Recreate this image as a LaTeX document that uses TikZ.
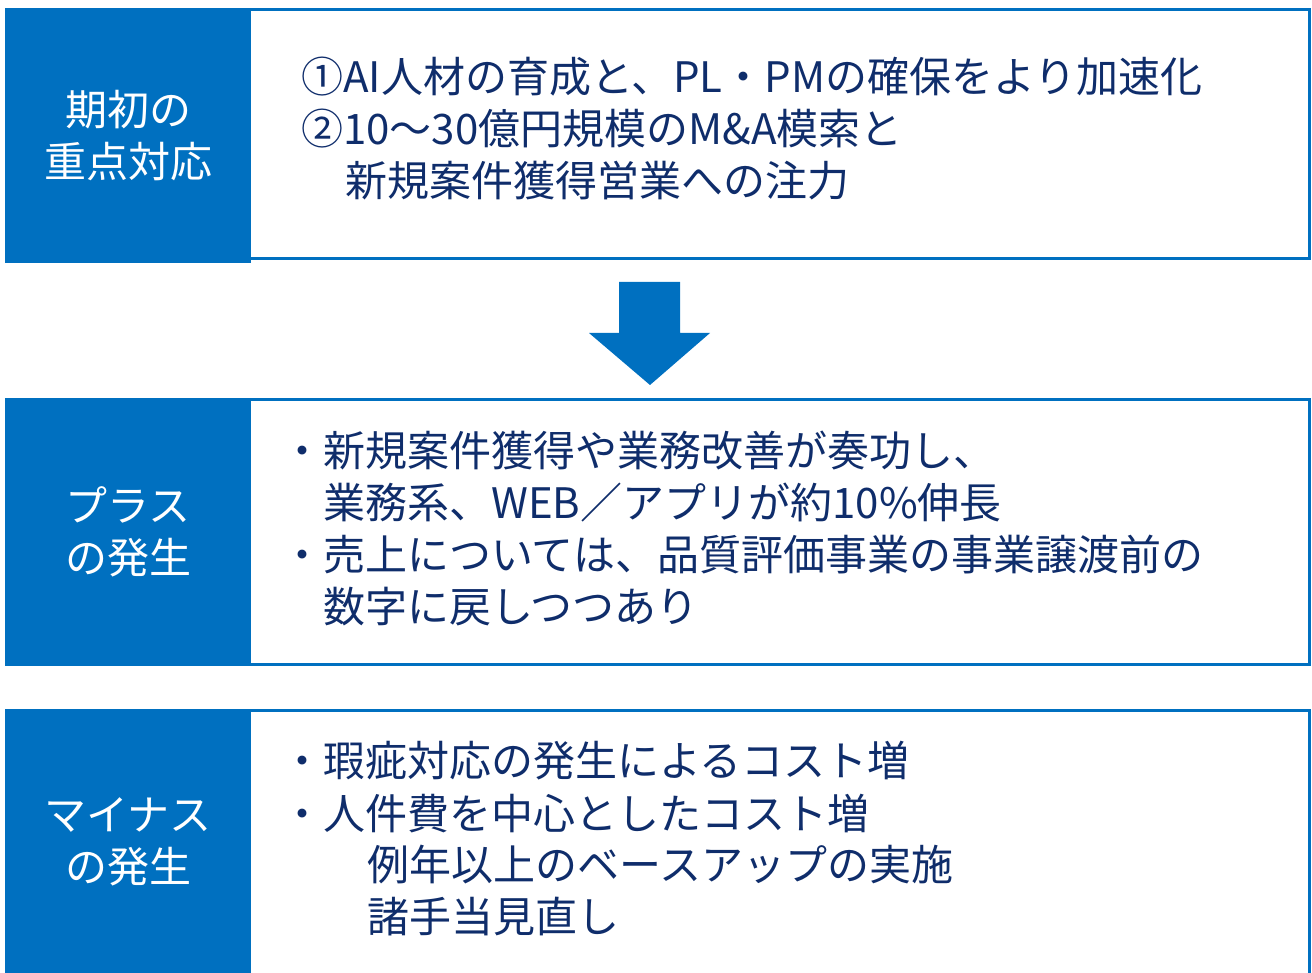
\documentclass[tikz,border=0pt]{standalone}
\usepackage{fontspec}
\setmainfont{Noto Sans CJK JP}
\definecolor{mainblue}{HTML}{0070C0}
\definecolor{inknavy}{HTML}{0F2D6B}

\begin{document}
\begin{tikzpicture}[x=1pt,y=-1pt,
        frame/.style={draw=mainblue, line width=3pt, inner sep=0pt, outer sep=0pt},
        headbox/.style={fill=mainblue, inner sep=0pt, outer sep=0pt, text=white, align=center, font=\fontsize{42}{52}\selectfont},
        bodytext/.style={text=inknavy, anchor=west, inner sep=0pt, text height=35pt, text depth=3pt, font=\fontsize{42}{52}\selectfont}]
        \useasboundingbox (0,0) rectangle (1312,973);

        % boxes
        \node (planbody) [frame, minimum width=1303, minimum height=249] at (658,134) {};
        \node (plushbody) [frame, minimum width=1303, minimum height=265] at (658,532) {};
        \node (minusbody) [frame, minimum width=1303, minimum height=264] at (658,842.5) {};
        \node (planhead) [headbox, minimum width=246, minimum height=255] at (128,135.5) {期初の\\重点対応};
        \node (plushead) [headbox, minimum width=246, minimum height=268] at (128,532) {プラス\\の発生};
        \node (minushead) [headbox, minimum width=246, minimum height=266] at (128,842) {マイナス\\の発生};

        % arrow
        \fill[mainblue] (619,282) -- (680,282) -- (680,333) -- (710,333) -- (650,385) -- (589,333) -- (619,333) -- cycle;

        % texts
        \node (planA) [bodytext] at (301,77) {①AI人材の育成と、PL・PMの確保をより加速化};
        \node (planB) [bodytext] at (301,129) {②10～30億円規模のM\&A模索と};
        \node (planC) [bodytext] at (345,181) {新規案件獲得営業への注力};

        \node (plusA) [bodytext] at (281,450) {・新規案件獲得や業務改善が奏功し、};
        \node (plusB) [bodytext] at (323,502) {業務系、WEB／アプリが約10\%伸長};
        \node (plusC) [bodytext] at (281,554) {・売上については、品質評価事業の事業譲渡前の};
        \node (plusD) [bodytext] at (323,606) {数字に戻しつつあり};

        \node (minusA) [bodytext] at (281,760) {・瑕疵対応の発生によるコスト増};
        \node (minusB) [bodytext] at (281,813) {・人件費を中心としたコスト増};
        \node (minusC) [bodytext] at (367,864) {例年以上のベースアップの実施};
        \node (minusD) [bodytext] at (367,916) {諸手当見直し};
    \end{tikzpicture}
\end{document}
